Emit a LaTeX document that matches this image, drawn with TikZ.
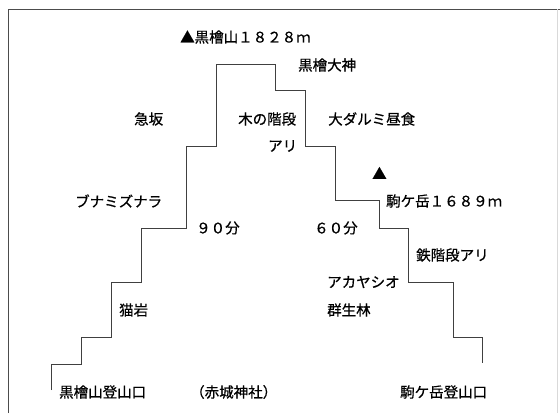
\documentclass[tikz,border=0pt]{standalone}
\usepackage{fontspec}
\setmainfont{Noto Sans CJK JP}[FakeBold=0.7]
\begin{document}
\begin{tikzpicture}[x=1pt,y=-1pt,
  lbl/.style={anchor=west,inner sep=0pt,font=\fontsize{14.5pt}{16pt}\selectfont,text=black},
  stair/.style={draw=black!75,line width=0.8pt},
  frame/.style={draw=black!70,line width=0.8pt}]
\useasboundingbox (0,0) rectangle (560,413);
\fill[white] (0,0) rectangle (560,413);
% frame
\draw[frame] (8,413) -- (8,9) -- (560,9);
\draw[draw=black!15,line width=0.6pt] (557,9) -- (557,413);
% staircase
\draw[stair] (51,390) -- (51,364) -- (81,364) -- (81,337) -- (111,337) -- (111,282)
  -- (141,282) -- (141,228) -- (186,228) -- (186,146) -- (216,146) -- (216,64)
  -- (275,64) -- (275,90) -- (305,90) -- (305,146) -- (335,146) -- (335,200)
  -- (379,200) -- (379,228) -- (408,228) -- (408,282) -- (453,282) -- (453,337)
  -- (482,337) -- (482,363);
% labels
\node[lbl] (kurobi) at (180,37) {▲黒檜山１８２８ｍ};
\node[lbl] (okami) at (298,65) {黒檜大神};
\node[lbl] (kyuhan) at (134,119) {急坂};
\node[lbl] (kinokai) at (238,119) {木の階段};
\node[lbl] (odarumi) at (328,119) {大ダルミ昼食};
\node[lbl] (ari) at (268,146) {アリ};
\node[lbl] (tri) at (372,173) {▲};
\node[lbl] (komaga) at (386,201) {駒ケ岳１６８９ｍ};
\node[lbl] (buna) at (75,201) {ブナミズナラ};
\node[lbl] (kyuju) at (196,228) {９０分};
\node[lbl] (rokuju) at (314,228) {６０分};
\node[lbl] (tetsu) at (416,255) {鉄階段アリ};
\node[lbl] (akaya) at (327,282) {アカヤシオ};
\node[lbl] (gunsei) at (327,310) {群生林};
\node[lbl] (neko) at (119,310) {猫岩};
\node[lbl] (kurotozan) at (59,392) {黒檜山登山口};
\node[lbl] (akagi) at (190,392) {（赤城神社）};
\node[lbl] (komatozan) at (400,392) {駒ケ岳登山口};
\end{tikzpicture}
\end{document}
